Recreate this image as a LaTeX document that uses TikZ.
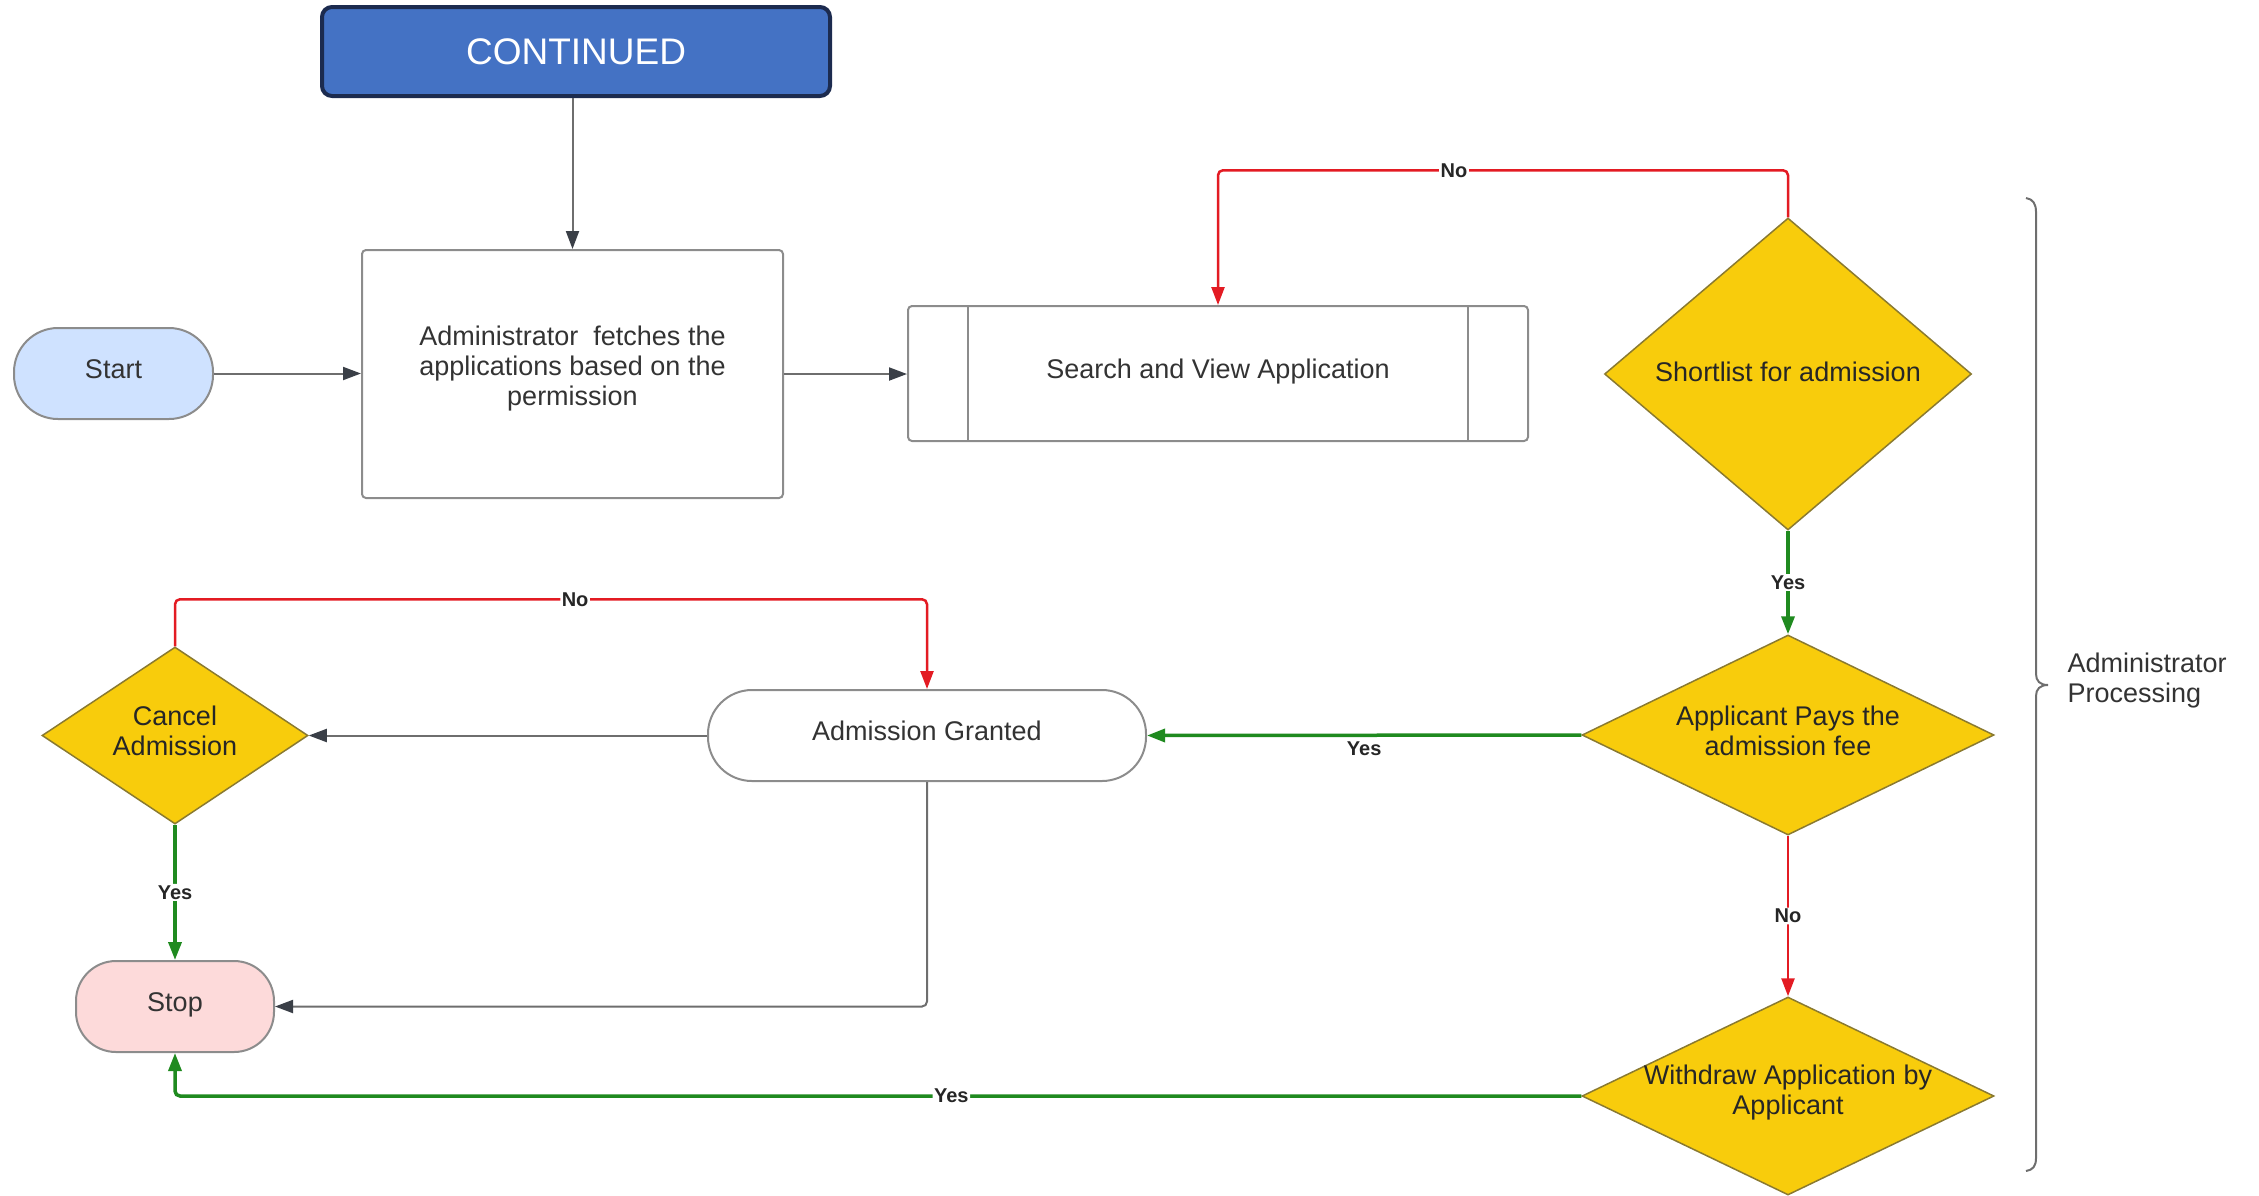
\documentclass[tikz,border=0pt]{standalone}
\usepackage{fontspec}
\setmainfont{Liberation Sans}
\usetikzlibrary{shapes.geometric,arrows.meta}
\definecolor{contfill}{HTML}{4472C4}
\definecolor{contdraw}{HTML}{1C2B4F}
\definecolor{dyel}{HTML}{F8CC0C}
\definecolor{dedge}{HTML}{8A7A30}
\definecolor{bord}{HTML}{8C8C8C}
\definecolor{lgray}{HTML}{6E6E6E}
\definecolor{tipdark}{HTML}{3A3F47}
\definecolor{cred}{HTML}{E31B23}
\definecolor{cgreen}{HTML}{1F8A1F}
\definecolor{txt}{HTML}{333333}
\definecolor{startfill}{HTML}{CFE2FF}
\definecolor{stopfill}{HTML}{FDDADA}
\begin{document}
\begin{tikzpicture}[x=1pt,y=-1pt,
 every node/.style={font=\fontsize{27}{30}\selectfont, text=txt},
 box/.style={draw=bord, line width=2pt, rounded corners=4pt, align=center, inner sep=0pt, text depth=9pt},
 pill/.style={box, rounded corners=44pt},
 dia/.style={diamond, draw=dedge, line width=1.5pt, fill=dyel, inner sep=0pt, aspect=1},
 dtext/.style={align=center, text=black!85, yshift=4pt},
 conn/.style={draw=lgray, line width=2pt, rounded corners=5pt, -{Triangle[length=18pt,width=13pt,color=tipdark]}},
 rconn/.style={draw=cred, line width=2.5pt, rounded corners=5pt, -{Triangle[length=18pt,width=13pt]}},
 gconn/.style={draw=cgreen, line width=3.5pt, rounded corners=5pt, -{Triangle[length=18pt,width=13pt]}},
 lab/.style={font=\bfseries\fontsize{20}{22}\selectfont, text=black!85, fill=white, inner sep=1.5pt},
]
\useasboundingbox (0,0) rectangle (2259,1195);

\node[draw=contdraw, fill=contfill, line width=4pt, rounded corners=10pt, minimum width=508pt, minimum height=89pt, font=\fontsize{37}{40}\selectfont, text=white] (cont) at (576,51.5) {CONTINUED};
\node[box, minimum width=421pt, minimum height=248pt, text depth=17pt] (admin) at (572.5,374) {Administrator\ \ fetches the\\applications based on the\\permission};
\node[pill, fill=startfill, minimum width=199pt, minimum height=91pt] (start) at (113.5,373.5) {Start};
\node[box, minimum width=620pt, minimum height=135pt] (search) at (1218,373.5) {Search and View Application};
\draw[bord, line width=1.5pt] ([xshift=61pt]search.north west) -- ([xshift=61pt]search.south west);
\draw[bord, line width=1.5pt] ([xshift=-61pt]search.north east) -- ([xshift=-61pt]search.south east);

\node[dia, minimum width=367pt, minimum height=312pt] (sl) at (1788,374) {};
\node[dtext, yshift=-2pt] (slt) at (sl) {Shortlist for admission};
\node[dia, minimum width=412pt, minimum height=200pt] (ap) at (1788,735) {};
\node[dtext] (apt) at (ap) {Applicant Pays the\\admission fee};
\node[dia, minimum width=412pt, minimum height=198pt] (wd) at (1788,1096) {};
\node[dtext] (wdt) at (wd) {Withdraw Application by\\Applicant};
\node[dia, minimum width=266pt, minimum height=177pt] (cancel) at (175,735.5) {};
\node[dtext, yshift=1pt] (cancelt) at (cancel) {Cancel\\Admission};
\node[pill, minimum width=438pt, minimum height=91pt] (ag) at (927,735.5) {Admission Granted};
\node[pill, fill=stopfill, rounded corners=40pt, minimum width=198pt, minimum height=91pt] (stop) at (175,1006.5) {Stop};

\draw[conn] (cont.south -| admin.north) -- (admin.north);
\draw[conn] (start.east) -- (start.east -| admin.west);
\draw[conn] (admin.east) -- (admin.east -| search.west);
\draw[rconn] (sl.north) -- ++(0,-47) -| node[lab, pos=0.293] {No} (search.north);
\draw[gconn] (sl.south) -- node[lab] {Yes} (ap.north);
\draw[gconn] (ap.west) -- node[lab, below=3pt] {Yes} (ag.east);
\draw[rconn] (ap.south) -- node[lab] {No} (wd.north);
\draw[gconn] (wd.west) -| node[lab, pos=0.224] {Yes} (stop.south);
\draw[conn] (ag.south) |- (stop.east);
\draw[conn] (ag.west) -- (ag.west -| cancel.east);
\draw[gconn] (cancel.south) -- node[lab] {Yes} (stop.north);
\draw[rconn] (cancel.north) -- ++(0,-47) -| node[lab, pos=0.266] {No} (ag.north);

\draw[lgray, line width=2pt] (2026,198) .. controls (2033,199) and (2036,204) .. (2036,212) -- (2036,674) .. controls (2036,681) and (2040,685) .. (2048,685) .. controls (2040,685) and (2036,689) .. (2036,696) -- (2036,1158) .. controls (2036,1166) and (2033,1170) .. (2026,1171);
\node[anchor=west, align=left] (proc) at (2064,681) {Administrator\\Processing};
\end{tikzpicture}
\end{document}
